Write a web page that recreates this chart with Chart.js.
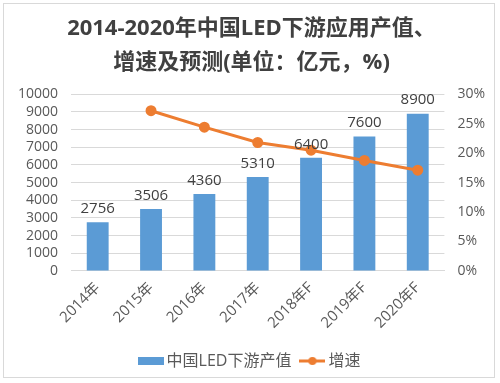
<!DOCTYPE html>
<html>
<head>
<meta charset="utf-8">
<script src="https://cdn.jsdelivr.net/npm/chart.js@4"></script>
<style>
  html, body { margin: 0; padding: 0; background: #fff; }
  #wrap { position: absolute; left: 3px; top: 3px; width: 492px; height: 375px; border: 1px solid #d9d9d9; box-sizing: border-box; }
  #wrap2 { position: absolute; left: 0; top: 0; width: 500px; height: 383px; }
</style>
</head>
<body>
<div id="wrap"></div>
<div id="wrap2"><canvas id="c" width="500" height="383"></canvas></div>
<script>
const categories = ['2014年', '2015年', '2016年', '2017年', '2018年F', '2019年F', '2020年F'];
const outputValues = [2756, 3506, 4360, 5310, 6400, 7600, 8900];
const growthRates = [null, 27.2, 24.4, 21.8, 20.5, 18.75, 17.1];
const leftTicks = [0, 1000, 2000, 3000, 4000, 5000, 6000, 7000, 8000, 9000, 10000];
const rightTicks = [0, 5, 10, 15, 20, 25, 30];
const titleLines = ['2014-2020年中国LED下游应用产值、', '增速及预测(单位：亿元，%)'];
const seriesNames = ['中国LED下游产值', '增速'];

const FONT = '"Open Sans", "Noto Sans CJK SC", sans-serif';
const BLUE = '#5B9BD5';
const ORANGE = '#ED7D31';

function makeIcon(kind) {
  const cv = document.createElement('canvas');
  cv.width = 26; cv.height = 12;
  const g = cv.getContext('2d');
  if (kind === 'bar') {
    g.fillStyle = BLUE;
    g.fillRect(0, 2, 26, 8);
  } else {
    g.strokeStyle = ORANGE; g.lineWidth = 3;
    g.beginPath(); g.moveTo(0, 6); g.lineTo(26, 6); g.stroke();
    g.fillStyle = ORANGE;
    g.beginPath(); g.arc(13, 6, 4, 0, Math.PI * 2); g.fill();
  }
  return cv;
}
const icons = [makeIcon('bar'), makeIcon('line')];

const barLabels = {
  id: 'barLabels',
  afterDatasetsDraw(chart) {
    const ctx = chart.ctx;
    const meta = chart.getDatasetMeta(1);
    ctx.save();
    ctx.font = '15px ' + FONT;
    ctx.fillStyle = '#404040';
    ctx.textAlign = 'center';
    ctx.textBaseline = 'bottom';
    meta.data.forEach((el, i) => {
      ctx.fillText(String(outputValues[i]), el.x, el.y - 6);
    });
    ctx.restore();
  }
};

new Chart(document.getElementById('c'), {
  data: {
    labels: categories,
    datasets: [
      {
        type: 'line',
        label: seriesNames[1],
        data: growthRates,
        yAxisID: 'y1',
        borderColor: ORANGE,
        backgroundColor: ORANGE,
        borderWidth: 3,
        pointRadius: 4,
        pointHoverRadius: 4,
        pointBackgroundColor: ORANGE,
        pointBorderColor: ORANGE,
        tension: 0,
        order: 0
      },
      {
        type: 'bar',
        label: seriesNames[0],
        data: outputValues,
        yAxisID: 'y',
        backgroundColor: BLUE,
        barPercentage: 0.41,
        categoryPercentage: 1.0,
        order: 1
      }
    ]
  },
  options: {
    responsive: false,
    animation: false,
    devicePixelRatio: 1,
    layout: { padding: { left: 5, right: 2, top: 0, bottom: 4 } },
    plugins: {
      title: {
        display: true,
        text: titleLines,
        color: '#404040',
        font: { family: FONT, size: 22, weight: 'bold', lineHeight: 1.55 },
        padding: { top: 12, bottom: 14 }
      },
      legend: {
        position: 'bottom',
        reverse: false,
        labels: {
          usePointStyle: true,
          color: '#595959',
          font: { family: FONT, size: 16 },
          padding: 13,
          generateLabels(chart) {
            return [
              { text: seriesNames[0], pointStyle: icons[0], datasetIndex: 1, fontColor: '#595959', lineWidth: 0, strokeStyle: 'transparent', fillStyle: BLUE },
              { text: seriesNames[1], pointStyle: icons[1], datasetIndex: 0, fontColor: '#595959', lineWidth: 0, strokeStyle: 'transparent', fillStyle: ORANGE }
            ];
          }
        }
      },
      tooltip: { enabled: false }
    },
    scales: {
      x: {
        grid: { display: false, drawTicks: false },
        border: { display: true, color: '#d9d9d9' },
        ticks: {
          color: '#595959',
          font: { family: FONT, size: 15 },
          minRotation: 45,
          maxRotation: 45,
          padding: 8
        }
      },
      y: {
        position: 'left',
        min: 0, max: 10000,
        afterBuildTicks(axis) { axis.ticks = leftTicks.map(v => ({ value: v })); },
        grid: { color: '#d9d9d9', drawTicks: false },
        border: { display: false },
        ticks: {
          autoSkip: false,
          color: '#595959',
          font: { family: FONT, size: 14 },
          padding: 13,
          callback: v => String(v)
        }
      },
      y1: {
        position: 'right',
        min: 0, max: 30,
        afterBuildTicks(axis) { axis.ticks = rightTicks.map(v => ({ value: v })); },
        grid: { display: false, drawTicks: false },
        border: { display: false },
        ticks: {
          autoSkip: false,
          color: '#595959',
          font: { family: FONT, size: 14 },
          padding: 13,
          callback: v => v + '%'
        }
      }
    }
  },
  plugins: [barLabels]
});
</script>
</body>
</html>
